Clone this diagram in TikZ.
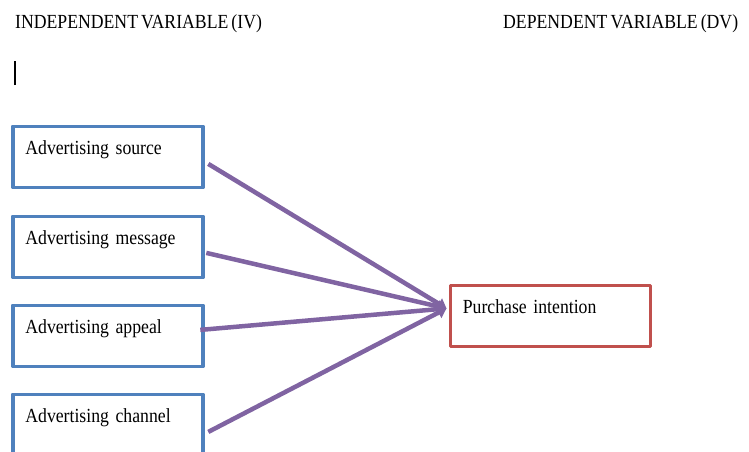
\documentclass[tikz,border=0pt]{standalone}
\usepackage{fontspec}
\setmainfont{Liberation Serif}[FakeStretch=0.885, WordSpace=0.7]
\usetikzlibrary{arrows.meta}
\definecolor{boxblue}{HTML}{4F81BD}
\definecolor{boxred}{HTML}{C0504D}
\definecolor{linkpurple}{HTML}{8064A2}
\tikzset{
    varbox/.style={
        draw, line width=3.8pt, anchor=north west, align=left,
        text width=165pt, inner xsep=12.5pt, inner ysep=14pt,
        text height=14.5pt, text depth=18.5pt,
        font=\fontsize{20}{24}\selectfont
    },
    hdr/.style={
        anchor=base west, inner sep=0pt,
        font=\fontsize{20}{24}\selectfont
    },
    link/.style={
        line width=4.5pt, color=linkpurple,
        -{Triangle[length=9pt,width=12pt]}
    }
}

\begin{document}
\begin{tikzpicture}[x=1pt,y=1pt, line join=round]

\useasboundingbox (0,0) rectangle (749,451);

% headers
\node[hdr] (iv) at (15,422) {INDEPENDENT VARIABLE (IV)};
\node[hdr] (dv) at (503,422) {DEPENDENT VARIABLE (DV)};
\draw[line width=2pt] (15,366) -- (15,390);

% independent variables
\foreach \name/\txt/\ytop in {src/source/326.5, msg/message/236.5, apl/appeal/147.5, chn/channel/58.5} {
  \node[varbox, draw=boxblue] (\name) at (11,\ytop) {Advertising \txt};
}

% dependent variable
\node[varbox, draw=boxred, text width=175pt] (pi) at (448.5,167.5) {Purchase intention};
\coordinate (hub) at ([xshift=-2pt,yshift=7.5pt]pi.west);

\draw[link] ([shift={(3.5pt,-7pt)}]src.east) -- (hub);
\draw[link] ([shift={(1.5pt,-6pt)}]msg.east) -- (hub);
\draw[link] ([shift={(-4.5pt,6pt)}]apl.east) -- (hub);
\draw[link] ([shift={(3.5pt,-7pt)}]chn.east) -- (hub);

\end{tikzpicture}
\end{document}
